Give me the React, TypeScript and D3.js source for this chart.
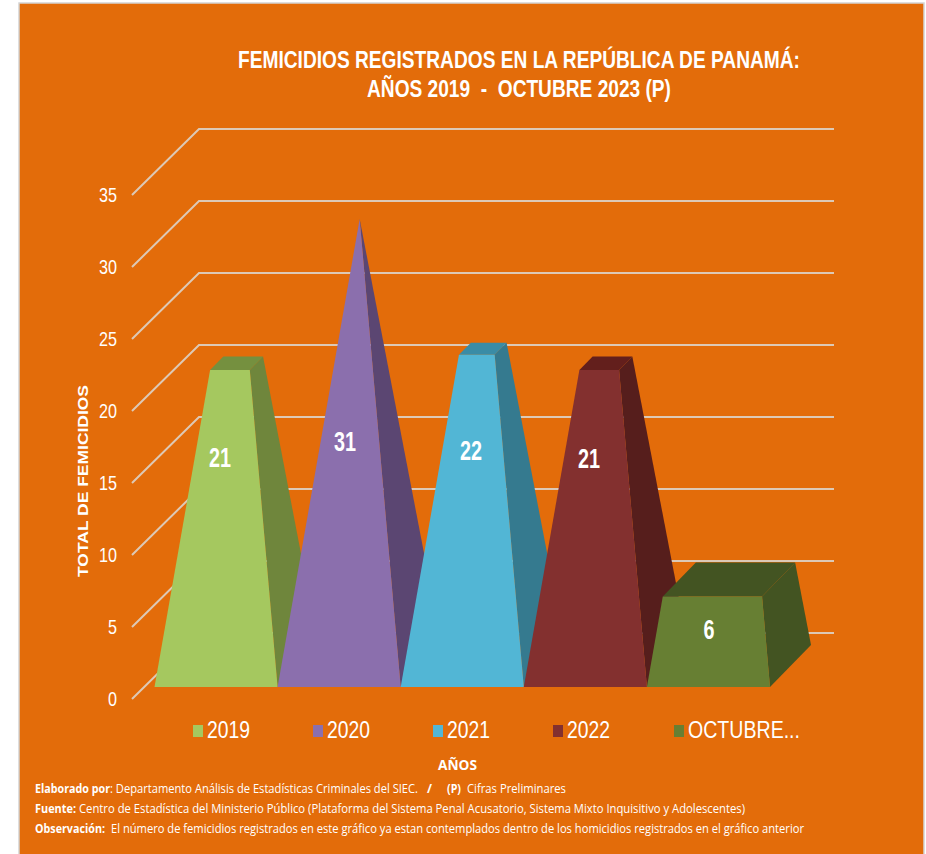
import React from "react";
import * as d3 from "d3";

const W = 926, H = 854;
const categories = ["2019", "2020", "2021", "2022", "OCTUBRE..."];
const values = [21, 31, 22, 21, 6];
const yTicks = [0, 5, 10, 15, 20, 25, 30, 35];
const frontColors = ["#A5C85F", "#8B6FAD", "#52B6D5", "#83302F", "#677F33"];
const sideColors = ["#6F863C", "#5B4672", "#357A8F", "#561E1C", "#435422"];
const topColors = ["#75903F", "#644F80", "#3A8CA6", "#631F1C", "#435422"];
const titleLines = ["FEMICIDIOS REGISTRADOS EN LA REPÚBLICA DE PANAMÁ:", "AÑOS 2019  -  OCTUBRE 2023 (P)"];
const noteLines = [
  ["Elaborado por", ": Departamento Análisis de Estadísticas Criminales del SIEC.", "/", "(P)", "Cifras Preliminares"],
  ["Fuente:", "Centro de Estadística del Ministerio Público (Plataforma del Sistema Penal Acusatorio, Sistema Mixto Inquisitivo y Adolescentes)"],
  ["Observación:", "El número de femicidios registrados en este gráfico ya estan contemplados dentro de los homicidios registrados en el gráfico anterior"],
];
const noteBold = [
  [true, false, true, true, false],
  [true, false],
  [true, false],
];

// layout only
const legendSwatchX = [193, 313, 433, 553, 674];
const legendTextX = [207, 327, 447, 567, 688];
const legendTextW = [43, 43, 43, 43, 112];
const labelX = [220, 345, 471, 589, 709];
const labelBase = [467, 451, 460, 468, 639];
const noteSpans = [
  [[35, 75], [110, 308], [427, 5], [447, 14], [467, 99]],
  [[35, 41], [79, 666]],
  [[35, 70], [111, 693]],
];

const arial = "'Liberation Sans', Arial, sans-serif";
const note = "'Open Sans', 'Noto Sans', sans-serif";

const backY = d3.scaleLinear().domain([0, 35]).range([633, 129]);
const frontY = d3.scaleLinear().domain([0, 35]).range([699, 195]);
const barY = d3.scaleLinear().domain([0, 31]).range([687, 219]);
const band = d3.scaleBand<number>().domain(d3.range(categories.length)).range([154.5, 770]);
const apex = d3.max(values) as number;

const line = d3.line();
const poly = (p: [number, number][]) => (line(p) as string) + "Z";

function bar(i: number) {
  const l = band(i) as number, r = l + band.bandwidth();
  const v = values[i], t = v / apex;
  const y = barY(v);
  const tl = l + (r - l) * (2 / 3) * t;
  const tr = r - (r - l) * (1 / 3) * t;
  const dx = 41 * (1 - t), dy = 42 * (1 - t);
  return {
    front: poly([[l, 687], [r, 687], [tr, y], [tl, y]]),
    side: poly([[r, 687], [r + 41, 645], [tr + dx, y - dy], [tr, y]]),
    top: poly([[tl, y], [tr, y], [tr + dx, y - dy], [tl + dx, y - dy]]),
  };
}

export default function App() {
  return (
    <svg width={W} height={H} style={{ position: "absolute", left: 0, top: 0 }}>
      <rect width={W} height={H} fill="#fff" />
      <rect x={19} y={3} width={905} height={852} fill="#E36C0A" stroke="#D4D4D4" strokeWidth={1.5} />
      {titleLines.map((s, i) => (
        <text key={i} x={519} y={68 + i * 29} textAnchor="middle" fill="#fff" fontFamily={arial} fontWeight={700} fontSize={23} textLength={i === 0 ? 562 : 304} lengthAdjust="spacingAndGlyphs" style={{ whiteSpace: "pre" }}>{s}</text>
      ))}
      {yTicks.map((v) => (
        <g key={v}>
          <polyline points={`132,${frontY(v)} 199,${backY(v)} 834,${backY(v)}`} fill="none" stroke="#DDC9B6" strokeWidth={2} />
          <text x={117} y={frontY(v) + 7} textAnchor="end" fill="#fff" fontFamily={arial} fontSize={21} textLength={v < 10 ? 9 : 18} lengthAdjust="spacingAndGlyphs">{v}</text>
        </g>
      ))}
      {values.map((_, i) => {
        const b = bar(i);
        return (
          <g key={i}>
            <path d={b.side} fill={sideColors[i]} />
            <path d={b.top} fill={topColors[i]} />
            <path d={b.front} fill={frontColors[i]} />
          </g>
        );
      })}
      {values.map((v, i) => (
        <text key={i} x={labelX[i]} y={labelBase[i]} textAnchor="middle" fill="#fff" fontFamily={arial} fontWeight={700} fontSize={28} textLength={v < 10 ? 11 : 22} lengthAdjust="spacingAndGlyphs">{v}</text>
      ))}
      <text transform="translate(88,481) rotate(-90)" textAnchor="middle" fill="#fff" fontFamily={arial} fontWeight={700} fontSize={15.5} textLength={192} lengthAdjust="spacingAndGlyphs">TOTAL DE FEMICIDIOS</text>
      {categories.map((c, i) => (
        <g key={c}>
          <rect x={legendSwatchX[i]} y={725} width={10} height={12} fill={frontColors[i]} />
          <text x={legendTextX[i]} y={738} fill="#fff" fontFamily={arial} fontSize={24} textLength={legendTextW[i]} lengthAdjust="spacingAndGlyphs">{c}</text>
        </g>
      ))}
      <text x={457.5} y={770} textAnchor="middle" fill="#fff" fontFamily={note} fontWeight={700} fontSize={15} textLength={39} lengthAdjust="spacingAndGlyphs">AÑOS</text>
      {noteLines.map((parts, i) =>
        parts.map((p, j) => (
          <text key={`${i}-${j}`} x={noteSpans[i][j][0]} y={793 + i * 20} fill="#fff" fontFamily={note} fontSize={13} fontWeight={noteBold[i][j] ? 700 : 400} textLength={noteSpans[i][j][1]} lengthAdjust="spacingAndGlyphs">{p}</text>
        ))
      )}
    </svg>
  );
}
